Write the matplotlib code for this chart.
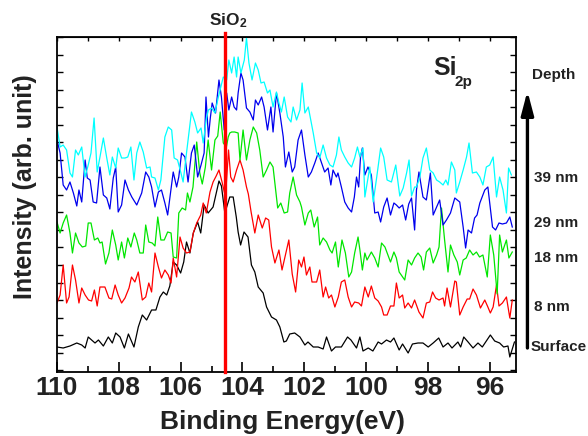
import numpy as np
import matplotlib
matplotlib.use("Agg")
import matplotlib.pyplot as plt
from matplotlib.ticker import MultipleLocator, NullFormatter

# Si 2p depth profile, intensities in arb. units
be_surface = [110.0, 109.8, 109.58, 109.36, 109.2, 109.09, 108.99, 108.77, 108.66, 108.5, 108.34, 108.21, 108.1,
              107.96, 107.82, 107.69, 107.51, 107.37, 107.24, 107.1, 106.94, 106.8, 106.67, 106.56, 106.45, 106.35,
              106.24, 106.13, 106.0, 105.9, 105.81, 105.7, 105.59, 105.45, 105.35, 105.24, 105.11, 104.95, 104.84,
              104.76, 104.68, 104.57, 104.41, 104.3, 104.2, 104.14, 104.06, 103.95, 103.82, 103.71, 103.6, 103.49,
              103.33, 103.22, 103.06, 102.9, 102.79, 102.66, 102.58, 102.47, 102.31, 102.14, 101.98, 101.88, 101.71,
              101.55, 101.39, 101.28, 101.12, 100.99, 100.8, 100.6, 100.49, 100.31, 100.2, 100.1, 99.93, 99.78,
              99.61, 99.5, 99.34, 99.21, 99.1, 98.93, 98.82, 98.64, 98.5, 98.32, 98.16, 97.99, 97.83, 97.65, 97.51,
              97.35, 97.22, 97.03, 96.94, 96.84, 96.7, 96.54, 96.38, 96.24, 95.98, 95.84, 95.68, 95.55, 95.41,
              95.35, 95.2]
int_surface = [25, 24, 26, 29, 27, 24, 35, 29, 32, 26, 35, 29, 39, 35, 24, 38, 25, 45, 57, 52, 62, 62, 75, 80, 77,
               86, 110, 107, 99, 110, 130, 119, 139, 150, 139, 167, 159, 165, 180, 191, 186, 159, 175, 175, 155, 140,
               127, 140, 135, 107, 100, 85, 79, 65, 55, 52, 45, 30, 31, 38, 39, 35, 27, 30, 25, 25, 23, 35, 21, 25,
               25, 35, 32, 24, 35, 21, 24, 21, 30, 28, 32, 30, 34, 22, 28, 19, 28, 29, 29, 25, 29, 34, 25, 29, 24,
               30, 25, 35, 30, 24, 29, 25, 37, 31, 29, 25, 26, 15, 30]

be_8nm = [110.0, 109.9, 109.8, 109.69, 109.61, 109.5, 109.4, 109.29, 109.2, 109.09, 108.98, 108.88, 108.79, 108.7,
          108.61, 108.45, 108.32, 108.23, 108.12, 108.02, 107.91, 107.8, 107.67, 107.59, 107.48, 107.37, 107.24,
          107.13, 107.03, 106.94, 106.83, 106.72, 106.62, 106.51, 106.4, 106.31, 106.24, 106.13, 106.02, 105.92,
          105.81, 105.7, 105.59, 105.48, 105.35, 105.27, 105.17, 105.05, 104.95, 104.85, 104.76, 104.66, 104.55,
          104.45, 104.38, 104.3, 104.19, 104.08, 103.98, 103.87, 103.81, 103.72, 103.6, 103.49, 103.36, 103.25,
          103.15, 103.06, 102.95, 102.82, 102.72, 102.61, 102.5, 102.39, 102.28, 102.18, 102.09, 102.01, 101.93,
          101.82, 101.75, 101.6, 101.5, 101.39, 101.31, 101.21, 101.12, 101.01, 100.9, 100.8, 100.69, 100.58,
          100.47, 100.37, 100.24, 100.15, 100.04, 99.93, 99.83, 99.72, 99.61, 99.5, 99.43, 99.32, 99.21, 99.1,
          99.02, 98.93, 98.82, 98.75, 98.64, 98.53, 98.43, 98.29, 98.16, 98.05, 97.94, 97.85, 97.75, 97.64,
          97.51, 97.46, 97.38, 97.27, 97.13, 97.08, 96.97, 96.86, 96.73, 96.65, 96.54, 96.43, 96.3, 96.16, 96.06,
          95.98, 95.89, 95.78, 95.7, 95.59, 95.46, 95.35, 95.27]
int_8nm = [69, 77, 107, 69, 75, 107, 92, 69, 84, 77, 72, 71, 82, 66, 85, 85, 74, 73, 87, 77, 69, 74, 84, 95, 90, 100,
           72, 75, 89, 80, 119, 105, 94, 102, 97, 89, 114, 95, 135, 124, 119, 120, 139, 149, 157, 169, 159, 180,
           190, 196, 202, 190, 175, 222, 195, 190, 202, 212, 202, 185, 178, 160, 139, 157, 144, 154, 152, 125, 109,
           122, 102, 117, 132, 98, 80, 112, 105, 115, 97, 105, 90, 90, 102, 75, 85, 74, 77, 65, 75, 90, 92, 75, 65,
           70, 69, 66, 85, 75, 86, 74, 71, 65, 57, 57, 66, 66, 89, 74, 77, 64, 69, 64, 72, 60, 54, 69, 70, 80, 74,
           72, 74, 66, 84, 65, 91, 90, 57, 65, 73, 73, 83, 77, 64, 72, 65, 59, 65, 87, 66, 69, 75, 54, 72]

be_18nm = [110.0, 109.9, 109.8, 109.69, 109.58, 109.5, 109.4, 109.29, 109.18, 109.07, 108.99, 108.9, 108.79, 108.68,
           108.61, 108.54, 108.43, 108.32, 108.21, 108.1, 108.02, 107.91, 107.82, 107.71, 107.61, 107.5, 107.42,
           107.32, 107.21, 107.13, 107.03, 106.92, 106.83, 106.74, 106.64, 106.53, 106.42, 106.31, 106.24, 106.13,
           106.06, 105.95, 105.84, 105.78, 105.7, 105.6, 105.48, 105.38, 105.3, 105.2, 105.11, 105.0, 104.89,
           104.8, 104.72, 104.62, 104.52, 104.46, 104.41, 104.35, 104.25, 104.14, 104.08, 103.98, 103.87, 103.76,
           103.65, 103.54, 103.44, 103.33, 103.22, 103.11, 103.01, 102.9, 102.86, 102.76, 102.65, 102.54, 102.47,
           102.36, 102.25, 102.14, 102.09, 101.98, 101.87, 101.79, 101.68, 101.57, 101.5, 101.39, 101.28, 101.17,
           101.1, 100.99, 100.9, 100.78, 100.67, 100.56, 100.47, 100.37, 100.26, 100.2, 100.12, 100.04, 99.97,
           99.83, 99.72, 99.61, 99.5, 99.39, 99.21, 99.1, 99.02, 98.93, 98.75, 98.64, 98.53, 98.43, 98.32, 98.22,
           98.14, 98.05, 97.94, 97.83, 97.72, 97.64, 97.56, 97.46, 97.35, 97.27, 97.16, 97.05, 96.97, 96.86, 96.76,
           96.65, 96.54, 96.43, 96.33, 96.22, 96.08, 95.98, 95.87, 95.76, 95.68, 95.59, 95.46, 95.38, 95.27]
int_18nm = [150, 139, 149, 157, 139, 119, 139, 129, 125, 126, 149, 149, 132, 134, 129, 130, 108, 119, 142, 127, 112,
            130, 114, 134, 125, 139, 132, 119, 119, 147, 130, 129, 126, 155, 132, 132, 140, 139, 115, 114, 159, 164,
            162, 179, 170, 185, 230, 199, 188, 205, 232, 202, 232, 236, 260, 229, 225, 235, 239, 240, 240, 239, 212,
            242, 212, 232, 245, 239, 222, 195, 202, 210, 205, 175, 164, 169, 159, 160, 179, 195, 177, 170, 165, 147,
            159, 162, 145, 155, 127, 134, 130, 122, 119, 130, 105, 132, 119, 95, 100, 119, 135, 122, 102, 119, 112,
            120, 114, 105, 129, 125, 110, 120, 114, 100, 92, 112, 107, 114, 119, 115, 102, 120, 124, 109, 117, 125,
            164, 132, 100, 127, 117, 110, 97, 112, 114, 122, 117, 120, 115, 117, 95, 137, 117, 78, 137, 120, 132,
            114, 120]

be_29nm = [110.0, 109.9, 109.8, 109.69, 109.58, 109.47, 109.36, 109.29, 109.2, 109.09, 109.02, 108.93, 108.83,
           108.72, 108.61, 108.5, 108.39, 108.29, 108.18, 108.1, 108.02, 107.91, 107.8, 107.69, 107.58, 107.42,
           107.26, 107.13, 107.03, 106.94, 106.83, 106.72, 106.62, 106.51, 106.42, 106.24, 106.13, 106.06, 105.97,
           105.86, 105.76, 105.65, 105.56, 105.45, 105.34, 105.24, 105.18, 105.1, 105.04, 104.98, 104.87, 104.76,
           104.68, 104.59, 104.51, 104.44, 104.35, 104.27, 104.19, 104.14, 104.05, 103.98, 103.87, 103.76, 103.65,
           103.58, 103.49, 103.38, 103.3, 103.19, 103.08, 103.01, 102.9, 102.79, 102.68, 102.61, 102.5, 102.39,
           102.31, 102.2, 102.09, 101.98, 101.87, 101.77, 101.66, 101.55, 101.44, 101.34, 101.23, 101.14, 101.07,
           100.96, 100.91, 100.8, 100.69, 100.58, 100.47, 100.38, 100.31, 100.24, 100.18, 100.12, 100.04, 99.94,
           99.83, 99.72, 99.61, 99.53, 99.43, 99.32, 99.21, 99.1, 99.02, 98.93, 98.82, 98.72, 98.62, 98.53, 98.43,
           98.37, 98.29, 98.16, 98.05, 97.92, 97.83, 97.72, 97.62, 97.51, 97.4, 97.27, 97.13, 96.97, 96.86, 96.78,
           96.7, 96.59, 96.49, 96.41, 96.32, 96.16, 96.06, 95.91, 95.81, 95.7, 95.59, 95.46, 95.35, 95.27]
int_29nm = [232, 219, 187, 182, 190, 179, 166, 182, 170, 212, 194, 192, 170, 169, 205, 177, 174, 163, 194, 205, 160,
            167, 192, 182, 175, 167, 179, 200, 195, 185, 165, 180, 182, 169, 157, 200, 185, 195, 219, 215, 190, 219,
            227, 195, 207, 219, 275, 235, 254, 269, 259, 292, 275, 242, 279, 262, 275, 265, 262, 279, 299, 292, 264,
            260, 252, 272, 267, 275, 265, 242, 265, 240, 279, 259, 235, 205, 220, 200, 205, 232, 242, 217, 195, 200,
            209, 219, 209, 200, 204, 187, 202, 195, 199, 185, 170, 164, 160, 175, 195, 185, 215, 224, 197, 205, 197,
            159, 160, 150, 165, 174, 157, 169, 167, 164, 167, 152, 168, 174, 142, 182, 200, 175, 172, 199, 157, 165,
            172, 147, 152, 159, 174, 170, 145, 124, 142, 139, 154, 157, 169, 182, 185, 145, 142, 149, 148, 149, 155,
            145]

be_39nm = [110.0, 109.9, 109.8, 109.69, 109.58, 109.5, 109.4, 109.31, 109.2, 109.09, 108.99, 108.9, 108.8, 108.7,
           108.61, 108.5, 108.39, 108.29, 108.21, 108.1, 108.02, 107.91, 107.8, 107.71, 107.61, 107.51, 107.42,
           107.32, 107.21, 107.1, 106.99, 106.94, 106.83, 106.72, 106.64, 106.51, 106.4, 106.29, 106.21, 106.1,
           105.99, 105.92, 105.81, 105.65, 105.54, 105.45, 105.34, 105.27, 105.16, 105.1, 105.0, 104.89, 104.78,
           104.62, 104.51, 104.44, 104.35, 104.27, 104.19, 104.14, 104.05, 103.94, 103.87, 103.79, 103.69, 103.58,
           103.49, 103.4, 103.3, 103.19, 103.11, 103.01, 102.9, 102.82, 102.74, 102.65, 102.54, 102.43, 102.36,
           102.25, 102.14, 102.07, 101.98, 101.87, 101.79, 101.71, 101.6, 101.5, 101.39, 101.28, 101.17, 101.07,
           100.96, 100.88, 100.8, 100.69, 100.58, 100.47, 100.37, 100.28, 100.2, 100.1, 100.04, 99.88, 99.77,
           99.66, 99.53, 99.43, 99.32, 99.18, 99.04, 98.91, 98.8, 98.69, 98.61, 98.53, 98.43, 98.37, 98.26, 98.16,
           98.05, 97.94, 97.83, 97.72, 97.62, 97.51, 97.42, 97.35, 97.24, 97.13, 97.08, 96.97, 96.86, 96.75, 96.67,
           96.56, 96.43, 96.32, 96.22, 96.11, 96.0, 95.89, 95.78, 95.68, 95.57, 95.46, 95.39, 95.3]
int_39nm = [245, 225, 227, 222, 199, 195, 222, 217, 225, 195, 207, 219, 254, 200, 215, 234, 214, 197, 215, 204, 224,
            214, 214, 215, 225, 192, 219, 230, 220, 204, 205, 195, 194, 182, 192, 235, 245, 242, 214, 212, 199, 190,
            219, 260, 250, 239, 244, 229, 255, 262, 264, 259, 275, 295, 292, 312, 299, 315, 295, 315, 299, 312, 334,
            309, 292, 309, 302, 289, 290, 279, 282, 265, 280, 269, 260, 275, 255, 250, 265, 252, 262, 289, 259, 265,
            252, 239, 219, 214, 227, 214, 207, 205, 217, 235, 222, 215, 209, 205, 214, 225, 215, 224, 175, 205, 170,
            194, 224, 215, 192, 190, 207, 176, 184, 199, 212, 176, 185, 185, 195, 214, 224, 202, 199, 192, 190, 187,
            192, 187, 210, 202, 179, 190, 202, 215, 229, 199, 200, 195, 187, 205, 207, 215, 175, 195, 182, 159, 204,
            197]

sio2_position = 104.57
depth_labels = ["39 nm", "29 nm", "18 nm", "8 nm", "Surface"]

plt.rcParams["font.family"] = ["Liberation Sans", "DejaVu Sans"]
plt.rcParams["mathtext.default"] = "regular"

fig = plt.figure(figsize=(5.88, 4.36), dpi=100)
ax = fig.add_axes([57 / 588, 1 - 372 / 436, 459 / 588, 335 / 436])

# spectra, surface first
ax.plot(be_surface, int_surface, color="black", lw=0.9)
ax.plot(be_8nm, int_8nm, color="#ff0000", lw=0.9)
ax.plot(be_18nm, int_18nm, color="#00e600", lw=0.9)
ax.plot(be_29nm, int_29nm, color="#0000ee", lw=0.9)
ax.plot(be_39nm, int_39nm, color="#00ffff", lw=0.9)
ax.axvline(sio2_position, ymax=1.012, color="#ff0000", lw=2.4, zorder=5, clip_on=False)

ax.set_xlim(110, 95.15)
ax.set_ylim(0, 335)

ax.xaxis.set_major_locator(MultipleLocator(2))
ax.xaxis.set_minor_locator(MultipleLocator(1))
ax.set_yticks(np.arange(2, 336, 17.5))
ax.yaxis.set_major_formatter(NullFormatter())
ax.tick_params(axis="x", which="major", direction="in", length=7, width=1.2,
               labelsize=19, pad=3, labelcolor="#222222")
ax.tick_params(axis="x", which="minor", direction="in", length=4, width=1.2)
ax.tick_params(axis="y", which="major", direction="in", length=4, width=1.0,
               left=True, right=True)
for lab in ax.get_xticklabels():
    lab.set_fontweight("bold")
for sp in ax.spines.values():
    sp.set_linewidth(1.3)

# short ticks along the top edge every 1 eV
top = ax.secondary_xaxis("top")
top.xaxis.set_major_locator(MultipleLocator(1))
top.tick_params(direction="in", length=3, width=1.0, labeltop=False)

fig.text(25 / 588, 1 - 187 / 436, "Intensity (arb. unit)", rotation=90, ha="center", va="center",
         fontsize=18, fontweight="bold", color="#222222")
fig.text(282 / 588, 1 - 429 / 436, "Binding Energy(eV)", ha="center", va="baseline",
         fontsize=19, fontweight="bold", color="#222222")

ax.text(sio2_position - 0.1, 1.02, "SiO$_2$", transform=ax.get_xaxis_transform(), ha="center", va="bottom",
        fontsize=12.5, fontweight="bold", color="#222222")
ax.text(97.84, 297, "Si", ha="left", va="baseline", fontsize=18, fontweight="bold", color="#222222")
ax.text(97.14, 286, "2p", ha="left", va="baseline", fontsize=11, fontweight="bold", color="#222222")

# depth arrow and labels on the right
ax.annotate("", xy=(94.78, 281), xytext=(94.78, 24),
            arrowprops=dict(arrowstyle="-|>,head_length=0.95,head_width=0.25", mutation_scale=15,
                            lw=2.4, color="black", shrinkA=0, shrinkB=0),
            annotation_clip=False)
ax.text(94.64, 297, "Depth", ha="left", va="center", fontsize=11, fontweight="bold", color="#222222")
label_levels = [194, 149, 114, 65, 25]
for txt, lvl in zip(depth_labels, label_levels):
    xpos = 94.68 if txt == "Surface" else 94.58
    ax.text(xpos, lvl, txt, ha="left", va="center", fontsize=11, fontweight="bold", color="#222222")

fig.savefig("out.png", dpi=100)
